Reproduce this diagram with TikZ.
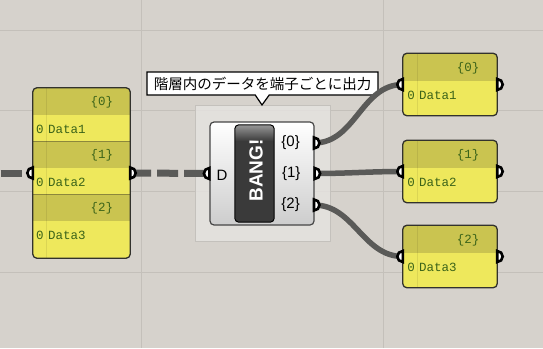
\documentclass[tikz,border=0pt]{standalone}
\usepackage{fontspec}
\setsansfont{Liberation Sans}
\setmonofont{Liberation Mono}
\newfontfamily\cjk{Noto Sans CJK JP}
\usetikzlibrary{positioning,shapes.callouts}

\begin{document}
\begin{tikzpicture}[x=1pt, y=-1pt,
    wire/.style={draw=WireGray, line width=5.5pt},
    dashwire/.style={draw=WireGray, line width=7pt, dash pattern=on 21pt off 6pt},
    portcap/.style={fill=white, draw=black, line width=2.6pt},
    panelbox/.style={rectangle, rounded corners=4pt, inner sep=0pt, fill=PanelBody},
    panelrim/.style={draw=PanelLine, line width=1.3pt, rounded corners=4pt},
    paneltxt/.style={inner sep=0pt, text=PanelText, font=\ttfamily\fontsize{12.5}{12.5}\selectfont},
    portlbl/.style={inner sep=0pt, font=\sffamily\fontsize{15}{15}\selectfont}]

    % 色の設定
    \definecolor{CanvasBg}{RGB}{214,210,204}
    \definecolor{GridLine}{RGB}{196,192,186}
    \definecolor{GroupFill}{RGB}{230,228,225}
    \definecolor{GroupLine}{RGB}{196,193,188}
    \definecolor{PanelBody}{RGB}{238,232,92}
    \definecolor{PanelHead}{RGB}{202,196,80}
    \definecolor{PanelSep}{RGB}{140,135,60}
    \definecolor{PanelLine}{RGB}{50,50,45}
    \definecolor{PanelText}{RGB}{60,100,25}
    \definecolor{WireGray}{RGB}{90,90,88}
    \definecolor{CompLine}{RGB}{70,70,70}
    \definecolor{CompShade}{RGB}{205,205,205}
    \definecolor{BtnDark}{RGB}{58,58,58}
    \definecolor{BtnLight}{RGB}{150,150,150}

    % 背景とグリッド
    \fill[CanvasBg] (0,0) rectangle (543,348);
    \useasboundingbox (0,0) rectangle (543,348);
    \foreach \gy in {30,110,191,272} \draw[GridLine, line width=1pt] (0,\gy) -- (543,\gy);
    \foreach \gx in {141,383} \draw[GridLine, line width=1pt] (\gx,0) -- (\gx,348);

    % グループ
    \filldraw[fill=GroupFill, fill opacity=0.8, draw=GroupLine, line width=1pt] (195,105) rectangle (330,241);

    % 吹き出し
    \coordinate (tipend) at (262,105);
    \node[rectangle callout, callout absolute pointer={(tipend)}, callout pointer width=14pt,
          draw=black, line width=1.2pt, fill=white, minimum width=231pt, minimum height=23pt,
          inner sep=0pt, font=\cjk\fontsize{14.5}{14.5}\selectfont] (note) at (262.5,83.5) {階層内のデータを端子ごとに出力};

    % 左のパネル
    \node[panelbox, minimum width=97pt, minimum height=170pt] (panelL) at (81.5,173) {};
    \begin{scope}
        \clip[rounded corners=4pt] (panelL.north west) rectangle (panelL.south east);
        \foreach \k in {0,1,2} \fill[PanelHead] (33,88+53*\k) rectangle (130,115+53*\k);
        \foreach \k in {0,1} \draw[PanelSep, line width=1pt] (33,141+53*\k) -- (130,141+53*\k);
        \draw[black, opacity=0.08, line width=1pt] (46,88) -- (46,258);
    \end{scope}
    \draw[panelrim] (panelL.north west) rectangle (panelL.south east);
    \foreach \k/\d in {0/1,1/2,2/3} {
        \node[paneltxt] (hL\k) at (102,102+53*\k) {\{\k\}};
        \node[paneltxt] (iL\k) at (40,129+53*\k) {0};
        \node[paneltxt, anchor=west] (dL\k) at (48,129+53*\k) {Data\d};
    }

    % 右のパネル
    \foreach \k/\d/\cy in {0/1/84.5,1/2/171.5,2/3/256.5} {
        \node[panelbox, minimum width=94pt, minimum height=62pt] (panel\k) at (450,\cy) {};
        \begin{scope}
            \clip[rounded corners=4pt] (panel\k.north west) rectangle (panel\k.south east);
            \fill[PanelHead] (403,\cy-31) rectangle (497,\cy-3.5);
            \draw[black, opacity=0.08, line width=1pt] (417,\cy-31) -- (417,\cy+31);
        \end{scope}
        \draw[panelrim] (panel\k.north west) rectangle (panel\k.south east);
        \node[paneltxt] (h\k) at (468,\cy-16.5) {\{\k\}};
        \node[paneltxt] (i\k) at (411,\cy+10.5) {0};
        \node[paneltxt, anchor=west] (d\k) at (419,\cy+10.5) {Data\d};
    }

    % コンポーネント
    \node[draw=CompLine, line width=1.2pt, rounded corners=4pt, top color=white, bottom color=CompShade,
          minimum width=104pt, minimum height=103pt, inner sep=0pt] (bang) at (262,173.5) {};
    \node[fill=BtnDark, rounded corners=4pt, minimum width=39pt, minimum height=97pt, inner sep=0pt] (btn) at (254.5,173.5) {};
    \begin{scope}
        \clip[rounded corners=4pt] (btn.north west) rectangle (btn.south east);
        \shade[top color=BtnLight, bottom color=BtnDark] (235,125) rectangle (274,141);
    \end{scope}
    \draw[black, line width=1pt, rounded corners=4pt] (btn.north west) rectangle (btn.south east);
    \node[rotate=90, text=white, inner sep=0pt, font=\sffamily\bfseries\fontsize{19}{19}\selectfont] (bangtxt) at (256,170.5) {BANG!};

    % 端子
    \coordinate (inL) at (0.5,173);
    \coordinate (bangD) at (bang.west);
    \coordinate (bang0) at (314,143);
    \coordinate (bang1) at (bang.east);
    \coordinate (bang2) at (314,205);

    % ワイヤー
    \draw[dashwire] (inL) -- (panelL.west);
    \draw[dashwire] (panelL.east) -- (bangD);
    \foreach \k in {0,1,2} \draw[wire] (bang\k) to[out=0, in=180] (panel\k.west);

    \foreach \p in {panelL.west, bangD, panel0.west, panel1.west, panel2.west}
        \filldraw[portcap] (\p) ++(0,-5.5) arc[start angle=90, end angle=270, radius=5.5pt] -- cycle;
    \foreach \p in {panelL.east, bang0, bang1, bang2, panel0.east, panel1.east, panel2.east}
        \filldraw[portcap] (\p) ++(0,-5.5) arc[start angle=90, end angle=-90, radius=5.5pt] -- cycle;

    % ラベル
    \node[portlbl, right=7pt of bangD, yshift=-1.5pt] (lblD) {D};
    \foreach \k in {0,1,2} \node[portlbl, left=14pt of bang\k] (lbl\k) {\{\k\}};

\end{tikzpicture}
\end{document}
